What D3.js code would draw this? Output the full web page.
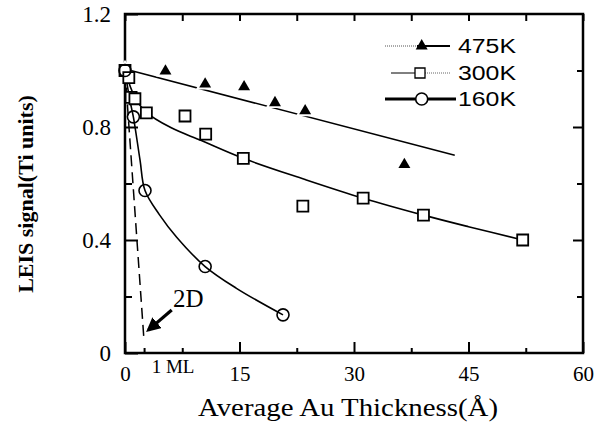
<!DOCTYPE html>
<html>
<head>
<meta charset="utf-8">
<script src="https://cdn.jsdelivr.net/npm/d3@7"></script>
<style>
  body { margin: 0; background: #fff; }
  svg { display: block; }
</style>
</head>
<body>
<script>
// data (thickness in Angstrom, LEIS signal in Ti units)
const xTicks = [0, 15, 30, 45, 60];
const xMinor = [7.5, 22.5, 37.5, 52.5];
const yTicks = [0, 0.4, 0.8, 1.2];
const yMinor = [0.2, 0.6, 1.0];
const mlTick = 2.5;

const pts475 = [[0, 1.0], [5.3, 0.998], [10.5, 0.952], [15.6, 0.942], [19.65, 0.886], [23.6, 0.857], [36.6, 0.667]];
const pts300 = [[0, 1.0], [0.5, 0.975], [0.8, 0.905], [1.3, 0.9], [2.8, 0.85], [7.86, 0.839], [10.57, 0.775],
                [15.5, 0.689], [23.3, 0.52], [31.2, 0.548], [39.1, 0.488], [52.1, 0.40]];
const pts160 = [[0, 1.0], [1.1, 0.836], [2.62, 0.575], [10.5, 0.306], [20.7, 0.135]];

// fitted lines as drawn in the figure
const fit475 = [[0, 1.005], [43.2, 0.70]];
const fit300 = [[0, 1.0], [1.3, 0.905], [2.8, 0.852], [6, 0.798], [10, 0.752], [15.5, 0.689], [23.5, 0.615],
                [31.2, 0.548], [39.1, 0.488], [45, 0.447], [52.1, 0.40]];
const fit160 = [[0, 1.0], [0.6, 0.9], [1.1, 0.835], [1.97, 0.683], [2.62, 0.575], [4.5, 0.49], [6.77, 0.41],
                [10.5, 0.306], [14.6, 0.229], [20.7, 0.135]];
const line2D = [[0, 1.0], [2.45, 0.06]];
const arrow2D = [[6.12, 0.152], [3.05, 0.081]];

const legendNames = ["475K", "300K", "160K"];

const W = 605, H = 424;
const x = d3.scaleLinear().domain([0, 60]).range([125, 583]);
const y = d3.scaleLinear().domain([0, 1.2]).range([353, 14]);

const svg = d3.select("body").append("svg")
    .attr("width", W).attr("height", H)
    .attr("viewBox", `0 0 ${W} ${H}`);

const serif = "'Liberation Serif', 'Times New Roman', serif";
const sans = "'Liberation Sans', Arial, sans-serif";

// --- axes (ticks point inward) ---
const styleAxis = g => {
    g.select(".domain").remove();
    g.selectAll("line").attr("stroke", "#000").attr("stroke-width", 2);
    g.selectAll("text").attr("font-family", serif).attr("fill", "#000");
};

svg.append("g").attr("transform", `translate(0,${y(0)})`)
    .call(d3.axisBottom(x).tickValues(xTicks).tickSize(-11).tickPadding(13).tickFormat(d3.format("d")))
    .call(styleAxis)
    .call(g => g.selectAll("text").attr("font-size", 21));
svg.append("g").attr("transform", `translate(0,${y(0)})`)
    .call(d3.axisBottom(x).tickValues(xMinor.concat([mlTick])).tickSize(-5).tickFormat(""))
    .call(styleAxis);

svg.append("g").attr("transform", `translate(0,${y(1.2)})`)
    .call(d3.axisTop(x).tickValues(xMinor.concat(xTicks)).tickSize(-7).tickFormat(""))
    .call(styleAxis);

svg.append("g").attr("transform", `translate(${x(0)},0)`)
    .call(d3.axisLeft(y).tickValues(yTicks).tickSize(-13).tickPadding(14)
        .tickFormat(d => d === 0 ? "0" : d3.format(".1f")(d)))
    .call(styleAxis)
    .call(g => g.selectAll("text").attr("font-size", 23));
svg.append("g").attr("transform", `translate(${x(0)},0)`)
    .call(d3.axisLeft(y).tickValues(yMinor).tickSize(-7).tickFormat(""))
    .call(styleAxis);

svg.append("g").attr("transform", `translate(${x(60)},0)`)
    .call(d3.axisRight(y).tickValues([0.4, 0.8]).tickSize(-10).tickFormat(""))
    .call(styleAxis);
svg.append("g").attr("transform", `translate(${x(60)},0)`)
    .call(d3.axisRight(y).tickValues(yMinor).tickSize(-6).tickFormat(""))
    .call(styleAxis);

// frame
svg.append("rect")
    .attr("x", x(0)).attr("y", y(1.2))
    .attr("width", x(60) - x(0)).attr("height", y(0) - y(1.2))
    .attr("fill", "none").attr("stroke", "#000").attr("stroke-width", 2.5);

// axis titles
svg.append("text")
    .attr("transform", `translate(33,194) rotate(-90)`)
    .attr("text-anchor", "middle")
    .attr("font-family", serif).attr("font-weight", "bold").attr("font-size", 22)
    .text("LEIS signal(Ti units)");

svg.append("text")
    .attr("x", 198).attr("y", 416)
    .attr("font-family", serif).attr("font-size", 25)
    .attr("textLength", 300).attr("lengthAdjust", "spacingAndGlyphs")
    .text("Average Au Thickness(Å)");

svg.append("text")
    .attr("x", x(3.5)).attr("y", 373)
    .attr("font-family", serif).attr("font-size", 19)
    .text("1 ML");

// --- lines ---
const line = d3.line().x(d => x(d[0])).y(d => y(d[1]));
const smooth = d3.line().x(d => x(d[0])).y(d => y(d[1])).curve(d3.curveCatmullRom.alpha(0.5));

svg.append("path").datum(fit475).attr("d", line)
    .attr("fill", "none").attr("stroke", "#000").attr("stroke-width", 1.6);
svg.append("path").datum(fit300).attr("d", smooth)
    .attr("fill", "none").attr("stroke", "#000").attr("stroke-width", 1.6);
svg.append("path").datum(fit160).attr("d", smooth)
    .attr("fill", "none").attr("stroke", "#000").attr("stroke-width", 1.6);
svg.append("path").datum(line2D).attr("d", line)
    .attr("fill", "none").attr("stroke", "#000").attr("stroke-width", 1.5)
    .attr("stroke-dasharray", "11,6");

// arrow for 2D
svg.append("defs").append("marker")
    .attr("id", "head").attr("viewBox", "0 0 10 10")
    .attr("refX", 8).attr("refY", 5)
    .attr("markerWidth", 4.5).attr("markerHeight", 4.5)
    .attr("markerUnits", "strokeWidth")
    .attr("orient", "auto")
    .append("path").attr("d", "M0,0 L10,5 L0,10 Z").attr("fill", "#000");
svg.append("path").datum(arrow2D).attr("d", line)
    .attr("stroke", "#000").attr("stroke-width", 3.2)
    .attr("marker-end", "url(#head)");
svg.append("text")
    .attr("x", 173).attr("y", 307)
    .attr("font-family", serif).attr("font-size", 25)
    .text("2D");

// --- markers ---
const tri = d3.symbol().type(d3.symbolTriangle);
const sq = d3.symbol().type(d3.symbolSquare).size(121);

svg.append("g").selectAll("path").data(pts475).join("path")
    .attr("transform", d => `translate(${x(d[0])},${y(d[1])})`)
    .attr("d", tri.size(150)()).attr("fill", "#fff");
svg.append("g").selectAll("path").data(pts475).join("path")
    .attr("transform", d => `translate(${x(d[0])},${y(d[1])})`)
    .attr("d", tri.size(62)()).attr("fill", "#000");

svg.append("g").selectAll("path").data(pts300).join("path")
    .attr("transform", d => `translate(${x(d[0])},${y(d[1])})`)
    .attr("d", sq()).attr("fill", "#fff").attr("stroke", "#000").attr("stroke-width", 1.8);

svg.append("g").selectAll("circle").data(pts160).join("circle")
    .attr("cx", d => x(d[0])).attr("cy", d => y(d[1])).attr("r", 6)
    .attr("fill", "none").attr("stroke", "#000").attr("stroke-width", 1.6);

// --- legend ---
const lg = svg.append("g");
const rowsY = [46, 73, 99];
// 475K: dotted then solid, filled triangle
lg.append("line").attr("x1", 385).attr("x2", 417).attr("y1", rowsY[0]).attr("y2", rowsY[0])
    .attr("stroke", "#555").attr("stroke-width", 1).attr("stroke-dasharray", "1,1");
lg.append("line").attr("x1", 417).attr("x2", 450).attr("y1", rowsY[0]).attr("y2", rowsY[0])
    .attr("stroke", "#000").attr("stroke-width", 2);
lg.append("path").attr("transform", `translate(421.7,${rowsY[0]})`).attr("d", tri.size(62)()).attr("fill", "#000");
// 300K: thin line, open square
lg.append("line").attr("x1", 391).attr("x2", 425).attr("y1", rowsY[1]).attr("y2", rowsY[1])
    .attr("stroke", "#000").attr("stroke-width", 1);
lg.append("line").attr("x1", 425).attr("x2", 450).attr("y1", rowsY[1]).attr("y2", rowsY[1])
    .attr("stroke", "#666").attr("stroke-width", 1).attr("stroke-dasharray", "1,1");
lg.append("path").attr("transform", `translate(420,${rowsY[1]})`).attr("d", d3.symbol().type(d3.symbolSquare).size(100)())
    .attr("fill", "#fff").attr("stroke", "#000").attr("stroke-width", 1.3);
// 160K: thick line, open circle
lg.append("line").attr("x1", 385).attr("x2", 456).attr("y1", rowsY[2]).attr("y2", rowsY[2])
    .attr("stroke", "#000").attr("stroke-width", 3);
lg.append("circle").attr("cx", 421.7).attr("cy", rowsY[2]).attr("r", 6)
    .attr("fill", "#fff").attr("stroke", "#000").attr("stroke-width", 1.6);

lg.selectAll("text").data(legendNames).join("text")
    .attr("x", 458).attr("y", (d, i) => rowsY[i] + 7)
    .attr("font-family", sans).attr("font-size", 20)
    .attr("textLength", 58).attr("lengthAdjust", "spacingAndGlyphs")
    .text(d => d);
</script>
</body>
</html>
